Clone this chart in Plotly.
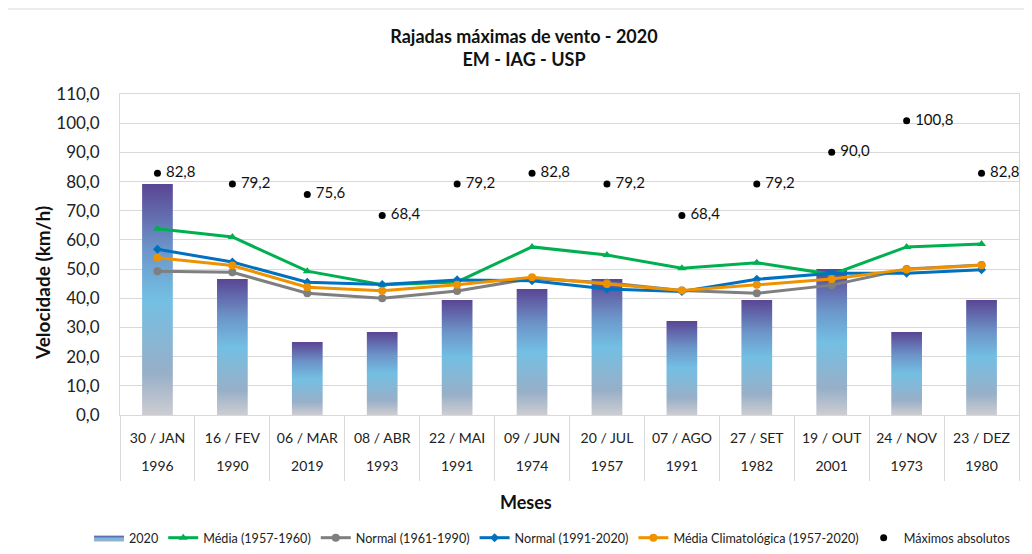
import plotly.graph_objects as go

dias = ["30 / JAN", "16 / FEV", "06 / MAR", "08 / ABR", "22 / MAI", "09 / JUN",
        "20 / JUL", "07 / AGO", "27 / SET", "19 / OUT", "24 / NOV", "23 / DEZ"]
anos = ["1996", "1990", "2019", "1993", "1991", "1974",
        "1957", "1991", "1982", "2001", "1973", "1980"]

rajada_2020 = [79.2, 46.6, 25.0, 28.4, 39.4, 43.2, 46.6, 32.2, 39.4, 50.0, 28.4, 39.4]
media_5760 = [63.8, 61.0, 49.3, 44.6, 45.6, 57.6, 54.8, 50.3, 52.2, 48.2, 57.6, 58.6]
normal_6190 = [49.3, 48.9, 41.7, 40.0, 42.5, 46.8, 45.3, 42.7, 41.7, 44.5, 50.0, 51.4]
normal_9120 = [56.8, 52.4, 45.5, 44.7, 46.3, 46.0, 43.2, 42.3, 46.5, 48.6, 48.6, 49.8]
media_clim = [53.9, 51.2, 43.8, 42.6, 44.6, 47.2, 44.9, 42.7, 44.6, 46.6, 49.9, 51.3]
maximos = [82.8, 79.2, 75.6, 68.4, 79.2, 82.8, 79.2, 68.4, 79.2, 90.0, 100.8, 82.8]

y_ticks = [0, 10, 20, 30, 40, 50, 60, 70, 80, 90, 100, 110]

FONT = "Lato"
pos = list(range(len(dias)))
bounds = [p - 0.5 for p in pos] + [pos[-1] + 0.5]

# the page body adds an 8px margin; figure is sized/positioned to compensate
W, H = 1024, 546
L, T, R, B = 112, 86, 13, 139
PH = H - T - B  # plot height in px
PW = W - L - R


def px_x(page_x):
    return (page_x - 8 - L) / PW


def px_y(page_y):
    return (PH + T - (page_y - 8)) / PH


fig = go.Figure()

# Bars with vertical gradient (one filled shape per bar)
half = 0.205
grad = [[0.0, "#CDCDD1"], [0.18, "#98AFC8"], [0.5, "#73BFE3"], [0.72, "#6C95C9"], [1.0, "#5A4594"]]
for i, v in zip(pos, rajada_2020):
    fig.add_trace(go.Scatter(
        x=[i - half, i + half, i + half, i - half, i - half],
        y=[0, 0, v, v, 0],
        mode="lines", line=dict(width=0, color="#73BFE3"),
        fill="toself",
        fillgradient=dict(type="vertical", colorscale=grad),
        name="2020", legendgroup="2020", showlegend=(i == 0),
        hoverinfo="text", text=f"{dias[i]} {anos[i]}: {v}",
    ))

lines = [
    ("Média (1957-1960)", media_5760, "#00B050", "triangle-up", 8),
    ("Normal (1961-1990)", normal_6190, "#7F7F7F", "circle", 8),
    ("Normal (1991-2020)", normal_9120, "#0070C0", "diamond", 7),
    ("Média Climatológica (1957-2020)", media_clim, "#EE9200", "circle", 8),
]
for name, vals, col, sym, sz in lines:
    fig.add_trace(go.Scatter(
        x=pos, y=vals, name=name, mode="lines+markers",
        line=dict(color=col, width=3),
        marker=dict(color=col, symbol=sym, size=sz),
    ))

fig.add_trace(go.Scatter(
    x=pos, y=maximos, name="Máximos absolutos", mode="markers",
    marker=dict(color="black", size=7),
))
# value labels (drawn on the overlaid year axis so that axis is rendered)
fig.add_trace(go.Scatter(
    x=pos, y=maximos, xaxis="x2", mode="markers+text", showlegend=False,
    marker=dict(size=12, opacity=0),
    text=[f"{v:.1f}".replace(".", ",") for v in maximos],
    textposition="middle right",
    textfont=dict(family=FONT, size=15, color="#111111"),
    hoverinfo="skip",
))

# outer chart border
fig.add_shape(type="rect", xref="paper", yref="paper",
              x0=px_x(7), x1=1.2, y0=-0.6, y1=px_y(9),
              line=dict(color="#D9D9D9", width=1), layer="below")

# axis titles
fig.add_annotation(text="<b>Meses</b>", xref="paper", yref="paper",
                   x=px_x(526), y=px_y(502), showarrow=False,
                   xanchor="center", yanchor="middle",
                   font=dict(family=FONT, size=18, color="#111111"))
fig.add_annotation(text="<b>Velocidade (km/h)</b>", xref="paper", yref="paper",
                   x=px_x(42), y=px_y(283), showarrow=False,
                   textangle=-90, xanchor="center", yanchor="middle",
                   font=dict(family=FONT, size=19, color="#111111"))

fig.update_layout(
    width=W, height=H,
    margin=dict(l=L, r=R, t=T, b=B, autoexpand=False),
    paper_bgcolor="white", plot_bgcolor="white",
    separators=",.",
    font=dict(family=FONT, size=14, color="#222222"),
    title=dict(
        text="<b>Rajadas máximas de vento - 2020<br>EM - IAG - USP</b>",
        x=516 / W, xref="container", xanchor="center",
        y=1 - 35 / H, yref="container", yanchor="top",
        font=dict(family=FONT, size=18, color="#111111"),
    ),
    xaxis=dict(
        range=[-0.5, 11.5], tickmode="array", tickvals=pos, ticktext=dias,
        showline=True, linecolor="#D9D9D9", linewidth=1, mirror=True,
        showgrid=False, zeroline=False, ticks="", ticklabelstandoff=10,
        automargin=False,
        tickfont=dict(family=FONT, size=14, color="#222222"),
        minor=dict(tickmode="array", tickvals=bounds, ticks="outside", ticklen=65,
                   tickcolor="#D9D9D9", tickwidth=1, showgrid=False),
    ),
    xaxis2=dict(
        overlaying="x", anchor="y", side="bottom", range=[-0.5, 11.5],
        tickmode="array", tickvals=pos, ticktext=anos,
        showline=False, showgrid=False, zeroline=False, ticks="",
        ticklabelstandoff=41, automargin=False,
        tickfont=dict(family=FONT, size=14, color="#222222"),
    ),
    yaxis=dict(
        range=[0, 110], tickvals=y_ticks, tickformat=".1f",
        showline=True, linecolor="#D9D9D9", linewidth=1, mirror=True,
        gridcolor="#D9D9D9", gridwidth=1, zeroline=False,
        ticks="", ticklabelstandoff=16, automargin=False,
        tickfont=dict(family=FONT, size=17, color="#222222"),
    ),
    legend=dict(
        orientation="h", xref="paper", x=px_x(89), xanchor="left",
        yref="paper", y=px_y(538), yanchor="middle",
        font=dict(family=FONT, size=12.6, color="#222222"),
        itemwidth=30, tracegroupgap=0, bgcolor="rgba(0,0,0,0)",
    ),
)

fig.write_html("out.html")
